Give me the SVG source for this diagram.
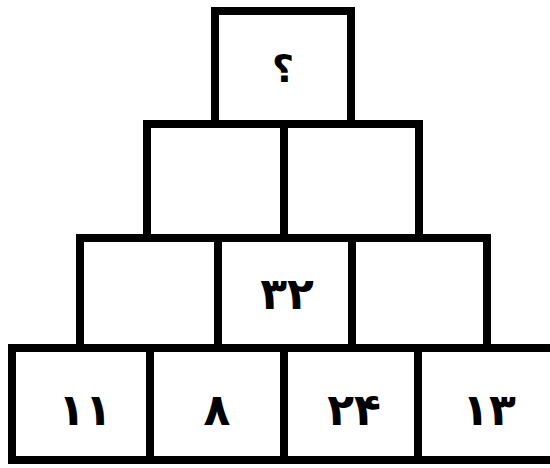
<svg xmlns="http://www.w3.org/2000/svg" width="550" height="468" viewBox="0 0 550 468">
<style>
.b{fill:#fff;stroke:#000;stroke-width:8;stroke-linejoin:miter}
.t{font-family:"DejaVu Sans","Noto Sans",sans-serif;font-weight:bold;font-size:44px;letter-spacing:-6px;fill:#000;text-anchor:middle}
.q{font-size:38px;letter-spacing:0}
</style>
<rect width="550" height="468" fill="#fff"/>
<g id="row4">
<g id="b41"><rect class="b" x="12" y="348" width="138" height="112"/><text class="t" x="85" y="425">۱۱</text></g>
<g id="b42"><rect class="b" x="150" y="348" width="134" height="112"/><text class="t" x="217" y="425">۸</text></g>
<g id="b43"><rect class="b" x="284" y="348" width="134" height="112"/><text class="t" x="354" y="425">۲۴</text></g>
<g id="b44"><rect class="b" x="418" y="348" width="140" height="112"/><text class="t" x="489" y="425">۱۳</text></g>
</g>
<g id="row3">
<g id="b31"><rect class="b" x="80" y="238" width="138" height="110"/></g>
<g id="b32"><rect class="b" x="218" y="238" width="134" height="110"/><text class="t" x="287" y="309">۳۲</text></g>
<g id="b33"><rect class="b" x="352" y="238" width="135" height="110"/></g>
</g>
<g id="row2">
<g id="b21"><rect class="b" x="147" y="124" width="137" height="114"/></g>
<g id="b22"><rect class="b" x="284" y="124" width="135" height="114"/></g>
</g>
<g id="row1">
<g id="b11"><rect class="b" x="215" y="11" width="136" height="113"/><text class="t q" x="283" y="82">؟</text></g>
</g>
</svg>
